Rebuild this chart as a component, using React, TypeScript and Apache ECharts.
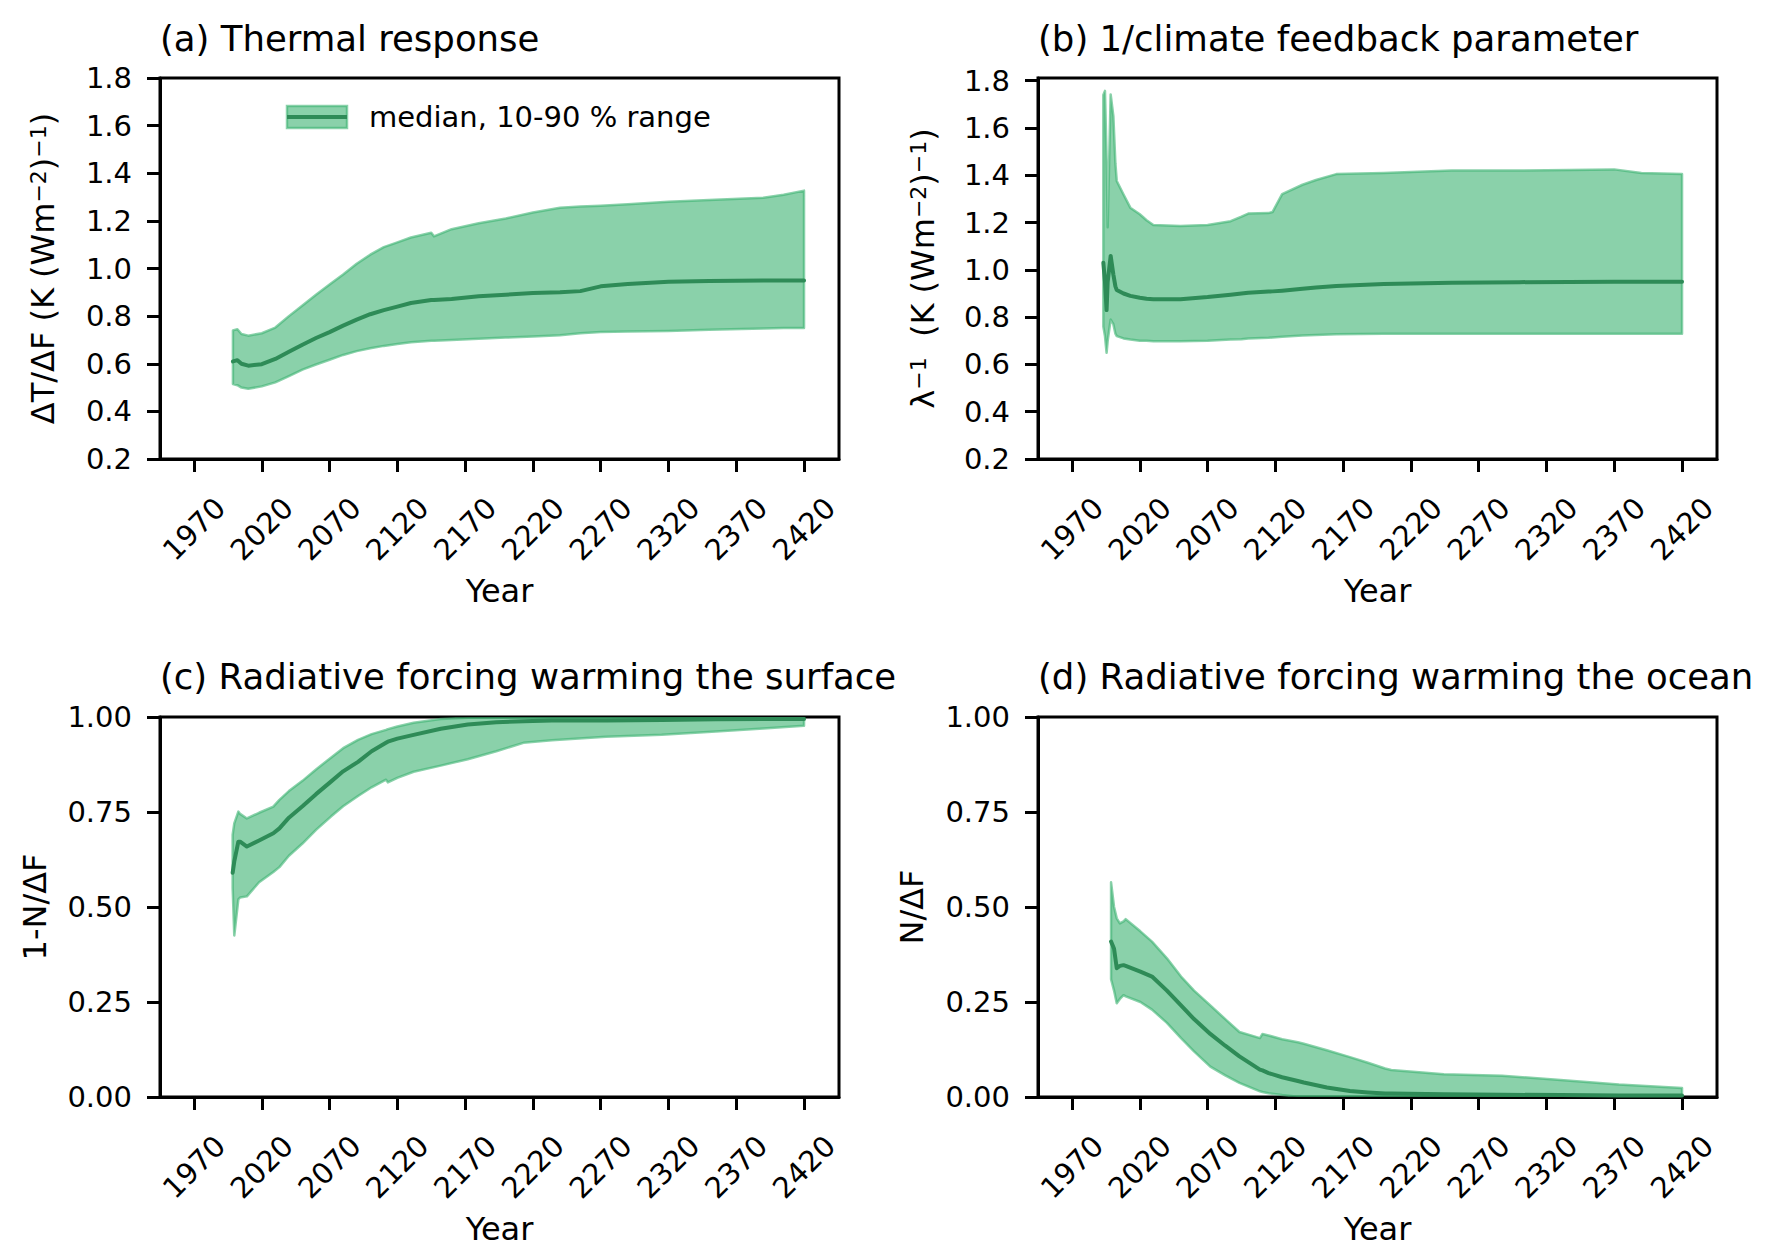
import React, { useEffect, useRef } from "react";
import * as echarts from "echarts";

const FONT = "'DejaVu Sans', sans-serif";
const FILL = "rgba(60,179,113,0.6)";
const MED = "#2e8b57";

const xTicks = [1970, 2020, 2070, 2120, 2170, 2220, 2270, 2320, 2370, 2420];
const yTicksAB = [0.2, 0.4, 0.6, 0.8, 1.0, 1.2, 1.4, 1.6, 1.8];
const yTicksCD = [0, 0.25, 0.5, 0.75, 1.0];

// (a) Thermal response
const aYears = [1998.7, 2002, 2005, 2010, 2020, 2030, 2040, 2050, 2060, 2070, 2080, 2090, 2100, 2110, 2120, 2130, 2145, 2147, 2160, 2180, 2200, 2220, 2240, 2255, 2270, 2290, 2320, 2350, 2390, 2405, 2420];
const aP10 = [0.515, 0.51, 0.50, 0.495, 0.505, 0.522, 0.548, 0.575, 0.597, 0.617, 0.637, 0.653, 0.665, 0.675, 0.683, 0.69, 0.697, 0.697, 0.70, 0.705, 0.71, 0.714, 0.72, 0.728, 0.733, 0.735, 0.738, 0.743, 0.748, 0.75, 0.75];
const aMed = [0.61, 0.615, 0.60, 0.592, 0.598, 0.62, 0.65, 0.68, 0.708, 0.733, 0.76, 0.785, 0.808, 0.825, 0.84, 0.855, 0.868, 0.868, 0.872, 0.883, 0.89, 0.897, 0.90, 0.905, 0.925, 0.935, 0.944, 0.947, 0.95, 0.95, 0.95];
const aP90 = [0.74, 0.745, 0.725, 0.718, 0.728, 0.752, 0.80, 0.845, 0.89, 0.933, 0.975, 1.02, 1.058, 1.09, 1.11, 1.13, 1.15, 1.135, 1.165, 1.19, 1.21, 1.235, 1.255, 1.26, 1.264, 1.27, 1.28, 1.288, 1.297, 1.31, 1.327];

// (b) 1/climate feedback parameter
const bYears = [1993.1, 1994.3, 1995.5, 1996.3, 1998.5, 2000.5, 2002, 2003, 2008, 2013, 2020, 2025, 2030, 2050, 2070, 2087, 2095, 2100, 2115, 2118, 2125, 2140, 2150, 2165, 2200, 2250, 2300, 2370, 2390, 2420];
const bP10 = [0.76, 0.72, 0.649, 0.70, 0.79, 0.77, 0.73, 0.72, 0.71, 0.705, 0.70, 0.70, 0.698, 0.698, 0.70, 0.705, 0.707, 0.71, 0.713, 0.714, 0.717, 0.722, 0.725, 0.728, 0.73, 0.73, 0.73, 0.73, 0.73, 0.73];
const bMed = [1.03, 0.95, 0.83, 0.95, 1.059, 0.98, 0.93, 0.915, 0.90, 0.89, 0.882, 0.878, 0.876, 0.876, 0.885, 0.895, 0.90, 0.903, 0.908, 0.909, 0.912, 0.92, 0.925, 0.932, 0.94, 0.945, 0.948, 0.95, 0.95, 0.95];
const bP90 = [1.74, 1.757, 1.47, 1.18, 1.742, 1.65, 1.45, 1.376, 1.319, 1.263, 1.235, 1.21, 1.19, 1.185, 1.19, 1.206, 1.225, 1.238, 1.24, 1.245, 1.32, 1.36, 1.38, 1.405, 1.41, 1.42, 1.42, 1.425, 1.41, 1.405];

// (c) Radiative forcing warming the surface
const cYears = [1998.5, 1999.7, 2002.7, 2004, 2009, 2018, 2028.5, 2033, 2040, 2050, 2060, 2071, 2080, 2091, 2101, 2111.6, 2113, 2120, 2132, 2152, 2172, 2193, 2213, 2234, 2274, 2315, 2355, 2390, 2420];
const cP10 = [0.55, 0.425, 0.52, 0.525, 0.528, 0.565, 0.592, 0.605, 0.635, 0.667, 0.703, 0.738, 0.765, 0.792, 0.815, 0.835, 0.828, 0.84, 0.856, 0.872, 0.889, 0.91, 0.932, 0.939, 0.948, 0.953, 0.962, 0.97, 0.977];
const cMed = [0.59, 0.62, 0.672, 0.672, 0.659, 0.675, 0.694, 0.707, 0.735, 0.765, 0.797, 0.83, 0.857, 0.882, 0.91, 0.932, 0.935, 0.943, 0.953, 0.969, 0.98, 0.986, 0.989, 0.991, 0.991, 0.992, 0.994, 0.995, 0.995];
const cP90 = [0.69, 0.72, 0.751, 0.745, 0.733, 0.748, 0.764, 0.782, 0.805, 0.832, 0.862, 0.893, 0.918, 0.94, 0.955, 0.966, 0.968, 0.975, 0.985, 0.995, 0.998, 0.999, 0.999, 0.999, 0.999, 0.999, 0.999, 0.999, 0.999];

// (d) Radiative forcing warming the ocean
const dYears = [1998.8, 2001, 2003, 2005.3, 2008, 2009.6, 2020.4, 2029, 2040, 2050.4, 2060, 2072, 2083, 2093.5, 2108.6, 2110.5, 2115, 2125, 2136.6, 2141, 2158, 2175, 2188.3, 2201, 2205.5, 2244.3, 2287.3, 2330.4, 2373.4, 2420];
const dP10 = [0.31, 0.28, 0.247, 0.258, 0.268, 0.265, 0.25, 0.23, 0.195, 0.155, 0.12, 0.08, 0.057, 0.037, 0.015, 0.013, 0.01, 0.005, 0.001, 0.001, 0.001, 0.001, 0.001, 0.001, 0.001, 0.001, 0.001, 0.001, 0.001, 0.001];
const dMed = [0.409, 0.39, 0.339, 0.345, 0.347, 0.345, 0.33, 0.317, 0.28, 0.241, 0.205, 0.166, 0.135, 0.107, 0.072, 0.07, 0.063, 0.052, 0.042, 0.038, 0.025, 0.016, 0.012, 0.009, 0.009, 0.007, 0.006, 0.005, 0.004, 0.004];
const dP90 = [0.565, 0.50, 0.47, 0.457, 0.462, 0.468, 0.436, 0.409, 0.365, 0.317, 0.28, 0.241, 0.205, 0.171, 0.155, 0.166, 0.162, 0.152, 0.144, 0.14, 0.123, 0.105, 0.09, 0.075, 0.071, 0.06, 0.056, 0.045, 0.033, 0.024];

const titles = ["(a) Thermal response", "(b) 1/climate feedback parameter", "(c) Radiative forcing warming the surface", "(d) Radiative forcing warming the ocean"];
// rich-text markup: {sup|...} renders a superscript
const yNames = ["ΔT/ΔF (K (Wm{sup|−2}){sup|−1})", "λ{sup|−1}  (K (Wm{sup|−2}){sup|−1})", "1-N/ΔF", "N/ΔF"];
const legendText = "median, 10-90 % range";

const XMIN = 1944.9;
const XMAX = 2445.8;

const panels = [
  { years: aYears, lo: aP10, med: aMed, hi: aP90, ymin: 0.2, ymax: 1.8, ticks: yTicksAB, dec: 1 },
  { years: bYears, lo: bP10, med: bMed, hi: bP90, ymin: 0.2, ymax: 1.8115, ticks: yTicksAB, dec: 1 },
  { years: cYears, lo: cP10, med: cMed, hi: cP90, ymin: 0, ymax: 1, ticks: yTicksCD, dec: 2 },
  { years: dYears, lo: dP10, med: dMed, hi: dP90, ymin: 0, ymax: 1, ticks: yTicksCD, dec: 2 },
];

const gridPos = [
  { left: 160, top: 78, width: 679, height: 381 },
  { left: 1038, top: 78, width: 679, height: 381 },
  { left: 160, top: 717, width: 679, height: 380 },
  { left: 1038, top: 717, width: 679, height: 380 },
];
const yNameGap = [101, 99, 109, 110];
const titlePos = [
  { x: 160, y: 38 },
  { x: 1038, y: 38 },
  { x: 160, y: 676 },
  { x: 1038, y: 676 },
];

function buildOption() {
  const grid: any[] = [];
  const xAxis: any[] = [];
  const yAxis: any[] = [];
  const series: any[] = [];
  const graphic: any[] = [];

  panels.forEach((p, i) => {
    grid.push({
      ...gridPos[i],
      show: true,
      borderColor: "#000",
      borderWidth: 3,
      backgroundColor: "transparent",
      containLabel: false,
      outerBoundsMode: "none",
    });
    xAxis.push({
      gridIndex: i,
      type: "value",
      min: XMIN,
      max: XMAX,
      name: "Year",
      nameLocation: "middle",
      nameGap: 116,
      nameTextStyle: { fontFamily: FONT, fontSize: 32, color: "#000" },
      axisLine: { show: true, onZero: false, lineStyle: { color: "#000", width: 3 } },
      axisTick: { show: true, length: 13, inside: false, lineStyle: { color: "#000", width: 3 }, customValues: xTicks },
      axisLabel: {
        customValues: xTicks,
        rotate: 45,
        align: "center",
        verticalAlign: "middle",
        margin: 70,
        fontFamily: FONT,
        fontSize: 29,
        color: "#000",
        formatter: (v: number) => String(Math.round(v)),
      },
      splitLine: { show: false },
    });
    yAxis.push({
      gridIndex: i,
      type: "value",
      min: p.ymin,
      max: p.ymax,
      name: yNames[i],
      nameLocation: "middle",
      nameRotate: 90,
      nameGap: yNameGap[i],
      nameTextStyle: {
        fontFamily: FONT,
        fontSize: 32,
        color: "#000",
        rich: {
          sup: { fontFamily: FONT, fontSize: 22, color: "#000", verticalAlign: "top" },
        },
      },
      axisLine: { show: true, onZero: false, lineStyle: { color: "#000", width: 3 } },
      axisTick: { show: true, length: 13, inside: false, lineStyle: { color: "#000", width: 3 }, customValues: p.ticks },
      axisLabel: {
        customValues: p.ticks,
        margin: 28,
        fontFamily: FONT,
        fontSize: 29,
        color: "#000",
        formatter: (v: number) => v.toFixed(p.dec),
      },
      splitLine: { show: false },
    });
    const years = p.years;
    const lo = p.lo;
    const hi = p.hi;
    series.push({
      type: "custom",
      xAxisIndex: i,
      yAxisIndex: i,
      silent: true,
      clip: true,
      z: 2,
      data: years.map((y, k) => [y, lo[k], hi[k]]),
      encode: { x: 0, y: [1, 2] },
      renderItem: (params: any, api: any) => {
        if (params.dataIndex !== 0) return null;
        const pts: number[][] = [];
        for (let k = 0; k < years.length; k++) pts.push(api.coord([years[k], hi[k]]));
        for (let k = years.length - 1; k >= 0; k--) pts.push(api.coord([years[k], lo[k]]));
        return {
          type: "polygon",
          shape: { points: pts },
          style: { fill: FILL, stroke: FILL, lineWidth: 2.5, lineJoin: "round" },
        };
      },
    });
    series.push({
      type: "line",
      xAxisIndex: i,
      yAxisIndex: i,
      silent: true,
      clip: true,
      z: 3,
      symbol: "none",
      showSymbol: false,
      data: years.map((y, k) => [y, p.med[k]]),
      lineStyle: { color: MED, width: 4, join: "round", cap: "round" },
    });
    graphic.push({
      type: "text",
      x: titlePos[i].x,
      y: titlePos[i].y,
      silent: true,
      style: {
        text: titles[i],
        fontFamily: FONT,
        fontSize: 35.5,
        fill: "#000",
        align: "left",
        verticalAlign: "middle",
        textAlign: "left",
        textVerticalAlign: "middle",
      },
    });
  });

  // legend in panel (a)
  graphic.push({
    type: "rect",
    silent: true,
    shape: { x: 287, y: 106, width: 60, height: 22 },
    style: { fill: FILL, stroke: FILL, lineWidth: 2.5 },
  });
  graphic.push({
    type: "line",
    silent: true,
    shape: { x1: 287, y1: 117, x2: 347, y2: 117 },
    style: { stroke: MED, lineWidth: 4 },
  });
  graphic.push({
    type: "text",
    x: 369,
    y: 117,
    silent: true,
    style: {
      text: legendText,
      fontFamily: FONT,
      fontSize: 29,
      fill: "#000",
      align: "left",
      verticalAlign: "middle",
      textAlign: "left",
      textVerticalAlign: "middle",
    },
  });

  return {
    animation: false,
    backgroundColor: "#fff",
    grid,
    xAxis,
    yAxis,
    series,
    graphic,
  };
}

export default function App() {
  const ref = useRef<HTMLDivElement>(null);
  useEffect(() => {
    if (!ref.current) return;
    const chart = echarts.init(ref.current, null, { renderer: "svg" });
    chart.setOption(buildOption() as any);
    return () => chart.dispose();
  }, []);
  return (
    <div
      ref={ref}
      style={{ position: "absolute", left: 0, top: 0, width: 1772, height: 1259, background: "#fff" }}
    />
  );
}
